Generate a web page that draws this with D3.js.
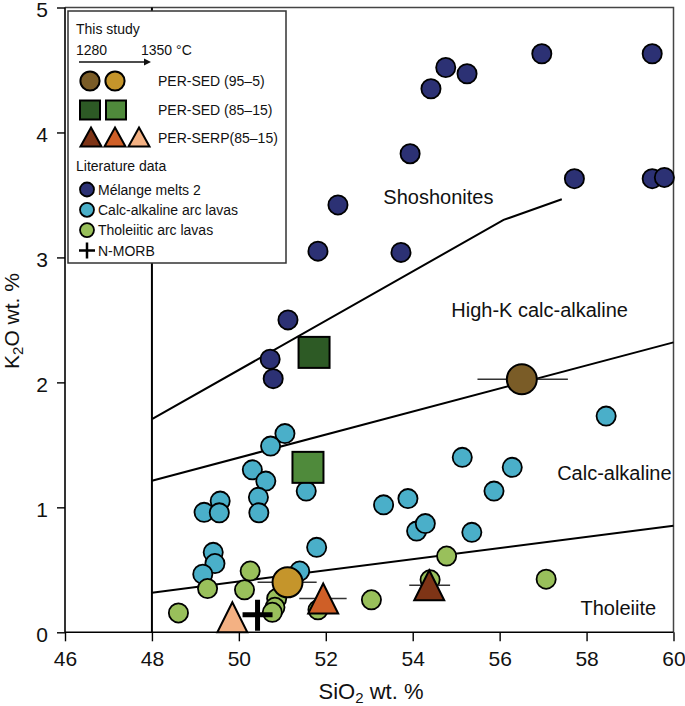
<!DOCTYPE html>
<html>
<head>
<meta charset="utf-8">
<script src="https://cdn.jsdelivr.net/npm/d3@7"></script>
<style>
  html, body { margin: 0; padding: 0; background: #fff; }
  svg { display: block; font-family: "Liberation Sans", Arial, Helvetica, sans-serif; }
</style>
</head>
<body>
<svg id="chart" width="685" height="706"></svg>
<script>
// ---------------- DATA ----------------
const xTicks = [46, 48, 50, 52, 54, 56, 58, 60];
const yTicks = [0, 1, 2, 3, 4, 5];

// Literature data: Mélange melts 2
const melangeSiO2 = [56.97, 59.51, 54.76, 55.25, 54.42, 53.94, 57.72, 59.51, 59.79, 52.28, 51.82, 53.73, 51.13, 50.72, 50.79];
const melangeK2O  = [4.63, 4.63, 4.52, 4.47, 4.35, 3.83, 3.63, 3.63, 3.64, 3.42, 3.05, 3.04, 2.50, 2.185, 2.03];

// Calc-alkaline arc lavas
const calcSiO2 = [51.06, 50.73, 50.31, 50.62, 50.45, 50.46, 49.57, 49.20, 49.55, 51.55, 51.79, 49.41, 49.45, 49.17, 51.40, 58.45, 55.14, 56.29, 55.87, 53.33, 53.89, 54.09, 54.29, 55.36];
const calcK2O  = [1.59, 1.49, 1.30, 1.21, 1.08, 0.956, 1.05, 0.96, 0.956, 1.13, 0.68, 0.64, 0.55, 0.465, 0.49, 1.73, 1.40, 1.32, 1.13, 1.02, 1.07, 0.81, 0.87, 0.80];

// Tholeiitic arc lavas
const tholSiO2 = [54.78, 57.07, 53.05, 54.40, 50.26, 49.28, 50.13, 48.61, 50.87, 50.83, 50.77, 51.82];
const tholK2O  = [0.61, 0.425, 0.26, 0.42, 0.49, 0.35, 0.34, 0.155, 0.27, 0.20, 0.16, 0.18];

// N-MORB
const morbSiO2 = [50.43];
const morbK2O  = [0.14];

// This study
const perSed95Labels = ["1280", "1350"];
const perSed95SiO2 = [56.51, 51.12];
const perSed95K2O  = [2.025, 0.40];
const perSed95ErrLo = [55.49, 50.43];
const perSed95ErrHi = [57.57, 51.79];

const perSed85SiO2 = [51.73, 51.59];
const perSed85K2O  = [2.24, 1.32];

const perSerpSiO2 = [54.38, 51.94, 49.85];
const perSerpK2O  = [0.377, 0.27, 0.12];
const perSerpErrLo = [53.92, 51.39, null];
const perSerpErrHi = [54.86, 52.48, null];

// Classification boundaries (SiO2, K2O)
const boundTholX = [48, 60];
const boundTholY = [0.317, 0.853];
const boundCalcX = [48, 60];
const boundCalcY = [1.213, 2.32];
const boundHighKX = [48, 56.09, 57.43];
const boundHighKY = [1.705, 3.30, 3.465];

const regionNames = ["Shoshonites", "High-K calc-alkaline", "Calc-alkaline", "Tholeiite"];
const regionX = [54.59, 56.92, 58.64, 58.73];
const regionY = [3.48, 2.58, 1.277, 0.195];

// ---------------- STYLE ----------------
const C = {
  navy: "#2c3174", cyan: "#4aafc9", green: "#99c05b",
  brown: "#7a5c27", gold: "#c5952b",
  dkgreen: "#2d5a25", ltgreen: "#4f8a3b",
  tri: ["#7e3416", "#cf5f27", "#f3b183"]
};
const sed95Colors = [C.brown, C.gold];
const sed85Colors = [C.dkgreen, C.ltgreen];

// ---------------- CHART ----------------
const svg = d3.select("#chart");
const x = d3.scaleLinear().domain([46, 60]).range([65, 673.5]);
const y = d3.scaleLinear().domain([0, 5]).range([632.3, 7.5]);

const triPath = (w, h) => `M0,${-h/2}L${w/2},${h/2}L${-w/2},${h/2}Z`;

// frame (top/right)
svg.append("path")
  .attr("d", `M${x(46)},${y(5)}H${x(60)}V${y(0)}`)
  .attr("fill", "none").attr("stroke", "#444").attr("stroke-width", 1.5);

// axes
const xAxis = svg.append("g").attr("transform", `translate(0,${y(0)})`)
  .call(d3.axisBottom(x).tickValues(xTicks).tickSize(9).tickSizeOuter(0).tickPadding(10).tickFormat(d3.format("d")));
const yAxis = svg.append("g").attr("transform", `translate(${x(46)},0)`)
  .call(d3.axisLeft(y).tickValues(yTicks).tickSize(8).tickSizeOuter(0).tickPadding(9).tickFormat(d3.format("d")));
[xAxis, yAxis].forEach(g => {
  g.select(".domain").attr("stroke", "#000").attr("stroke-width", 1.6);
  g.selectAll(".tick line").attr("stroke", "#000").attr("stroke-width", 1.4);
  g.selectAll(".tick text").attr("font-size", 21).attr("fill", "#111")
    .attr("font-family", "'Liberation Sans', Arial, sans-serif");
});
yAxis.selectAll(".tick text").attr("dy", "0.42em");
xAxis.select(".domain").attr("d", `M${x(46)},0H${x(60)}`);
yAxis.select(".domain").attr("d", `M0,${y(5)}V${y(0)}`);

// axis titles
const xt = svg.append("text").attr("x", 371).attr("y", 699)
  .attr("text-anchor", "middle").attr("font-size", 22).attr("fill", "#111");
xt.append("tspan").text("SiO");
xt.append("tspan").attr("font-size", 15).attr("dy", 4).text("2");
xt.append("tspan").attr("dy", -4).text(" wt. %");

const yt = svg.append("text").attr("transform", `translate(19,321) rotate(-90)`)
  .attr("text-anchor", "middle").attr("font-size", 21).attr("fill", "#111");
yt.append("tspan").text("K");
yt.append("tspan").attr("font-size", 15).attr("dy", 4).text("2");
yt.append("tspan").attr("dy", -4).text("O wt. %");

// 48 wt% vertical line
svg.append("line")
  .attr("x1", x(48)).attr("x2", x(48)).attr("y1", y(5)).attr("y2", y(0))
  .attr("stroke", "#000").attr("stroke-width", 2);

// boundaries
const line = d3.line().x(d => x(d[0])).y(d => y(d[1]));
[[boundTholX, boundTholY], [boundCalcX, boundCalcY], [boundHighKX, boundHighKY]].forEach(([bx, by]) => {
  svg.append("path").attr("d", line(bx.map((v, i) => [v, by[i]])))
    .attr("fill", "none").attr("stroke", "#000").attr("stroke-width", 2);
});

// region labels
svg.append("g").selectAll("text").data(regionNames).join("text")
  .attr("x", (d, i) => x(regionX[i])).attr("y", (d, i) => y(regionY[i]))
  .attr("dy", "0.35em").attr("text-anchor", "middle")
  .attr("font-size", 20).attr("fill", "#111").text(d => d);

// literature points
function circles(xs, ys, fill) {
  svg.append("g").selectAll("circle").data(xs).join("circle")
    .attr("cx", d => x(d)).attr("cy", (d, i) => y(ys[i])).attr("r", 9.6)
    .attr("fill", fill).attr("stroke", "#000").attr("stroke-width", 1.8);
}
circles(melangeSiO2, melangeK2O, C.navy);
circles(calcSiO2, calcK2O, C.cyan);
circles(tholSiO2, tholK2O, C.green);

// N-MORB cross
svg.append("g").selectAll("path").data(morbSiO2).join("path")
  .attr("d", (d, i) => `M${x(d) - 15},${y(morbK2O[i])}H${x(d) + 15}M${x(d)},${y(morbK2O[i]) - 15}V${y(morbK2O[i]) + 16}`)
  .attr("stroke", "#000").attr("stroke-width", 5).attr("fill", "none");

// error bars
const errG = svg.append("g").attr("stroke", "#333").attr("stroke-width", 1.5);
perSed95SiO2.forEach((v, i) => {
  errG.append("line").attr("x1", x(perSed95ErrLo[i])).attr("x2", x(perSed95ErrHi[i]))
    .attr("y1", y(perSed95K2O[i])).attr("y2", y(perSed95K2O[i]));
});
perSerpSiO2.forEach((v, i) => {
  if (perSerpErrLo[i] == null) return;
  errG.append("line").attr("x1", x(perSerpErrLo[i])).attr("x2", x(perSerpErrHi[i]))
    .attr("y1", y(perSerpK2O[i])).attr("y2", y(perSerpK2O[i]));
});

// this study markers
svg.append("g").selectAll("rect").data(perSed85SiO2).join("rect")
  .attr("x", d => x(d) - 15.5).attr("y", (d, i) => y(perSed85K2O[i]) - 15.5)
  .attr("width", 31).attr("height", 31)
  .attr("fill", (d, i) => sed85Colors[i]).attr("stroke", "#000").attr("stroke-width", 2);
svg.append("g").selectAll("path").data(perSerpSiO2).join("path")
  .attr("transform", (d, i) => `translate(${x(d)},${y(perSerpK2O[i])})`)
  .attr("d", triPath(30, 30))
  .attr("fill", (d, i) => C.tri[i]).attr("stroke", "#000").attr("stroke-width", 2);
svg.append("g").selectAll("circle").data(perSed95SiO2).join("circle")
  .attr("cx", d => x(d)).attr("cy", (d, i) => y(perSed95K2O[i])).attr("r", 15)
  .attr("fill", (d, i) => sed95Colors[i]).attr("stroke", "#000").attr("stroke-width", 2);

// ---------------- LEGEND ----------------
const lg = svg.append("g").attr("font-size", 14).attr("fill", "#111");
lg.append("rect").attr("x", 68).attr("y", 11).attr("width", 218).attr("height", 252)
  .attr("fill", "#fff").attr("stroke", "#333").attr("stroke-width", 1.5);
lg.append("text").attr("x", 76).attr("y", 34).text("This study");
lg.append("text").attr("x", 76).attr("y", 55).text(perSed95Labels[0]);
lg.append("text").attr("x", 141).attr("y", 55).text(perSed95Labels[1] + " °C");
lg.append("line").attr("x1", 79).attr("x2", 148).attr("y1", 62).attr("y2", 62)
  .attr("stroke", "#111").attr("stroke-width", 1.3);
lg.append("path").attr("d", "M151,62L144,58.5L144,65.5Z").attr("fill", "#111");

sed95Colors.forEach((c, i) => {
  lg.append("circle").attr("cx", 90 + i * 25).attr("cy", 81).attr("r", 9.6)
    .attr("fill", c).attr("stroke", "#000").attr("stroke-width", 2);
});
lg.append("text").attr("x", 158).attr("y", 86).text("PER-SED (95–5)");
sed85Colors.forEach((c, i) => {
  lg.append("rect").attr("x", 80 + i * 26).attr("y", 100.5).attr("width", 20).attr("height", 19)
    .attr("fill", c).attr("stroke", "#000").attr("stroke-width", 2);
});
lg.append("text").attr("x", 158).attr("y", 115).text("PER-SED (85–15)");
C.tri.forEach((c, i) => {
  lg.append("path").attr("transform", `translate(${91 + i * 24},137)`).attr("d", triPath(21, 19))
    .attr("fill", c).attr("stroke", "#000").attr("stroke-width", 2);
});
lg.append("text").attr("x", 158).attr("y", 143).text("PER-SERP(85–15)");

lg.append("text").attr("x", 76).attr("y", 171).text("Literature data");
const litItems = ["Mélange melts 2", "Calc-alkaline arc lavas", "Tholeiitic arc lavas"];
const litColors = [C.navy, C.cyan, C.green];
litItems.forEach((t, i) => {
  const cy = 189.5 + i * 20.3;
  lg.append("circle").attr("cx", 87).attr("cy", cy).attr("r", 7)
    .attr("fill", litColors[i]).attr("stroke", "#000").attr("stroke-width", 1.8);
  lg.append("text").attr("x", 98).attr("y", cy + 5).text(t);
});
lg.append("path").attr("d", "M79,250.5H95M87,242.5V258.5").attr("stroke", "#000").attr("stroke-width", 2.5);
lg.append("text").attr("x", 98).attr("y", 255.5).text("N-MORB");
</script>
</body>
</html>
